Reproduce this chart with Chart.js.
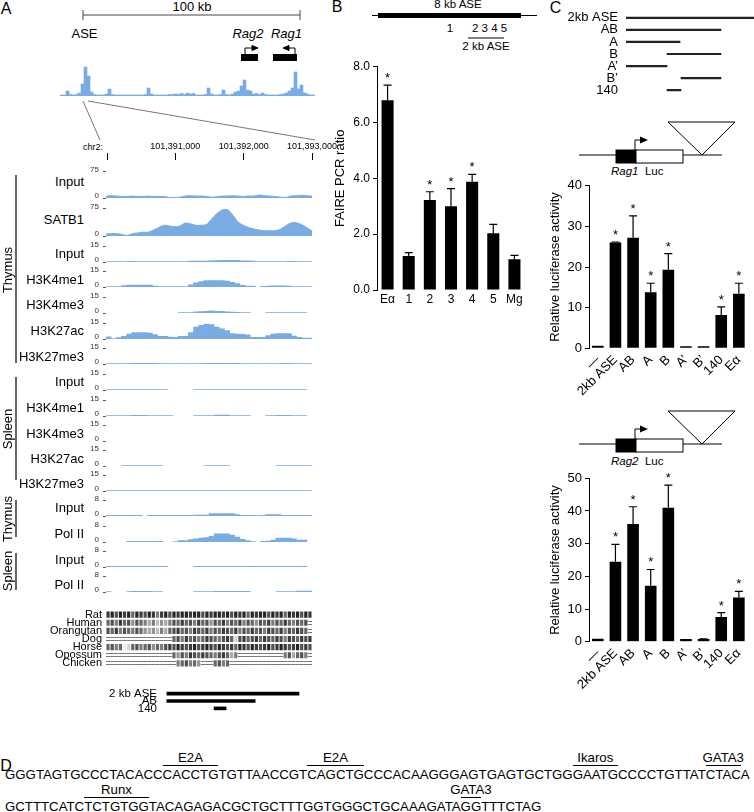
<!DOCTYPE html>
<html>
<head>
<meta charset="utf-8">
<script src="https://cdn.jsdelivr.net/npm/chart.js@4.4.1/dist/chart.umd.min.js"></script>
<style>
  body { margin: 0; width: 754px; height: 812px; position: relative; overflow: hidden; background: #fff;
         font-family: 'Liberation Sans', Arial, sans-serif; color: #000; }
  canvas, svg, .t { position: absolute; }
  .t { white-space: nowrap; line-height: 1; }
  .seq { position: absolute; left: 5px; white-space: nowrap; line-height: 1; font-size: 13px; }
  .m { position: relative; }
  .m::after { content: ''; position: absolute; left: 0; right: 0; top: -2px; border-top: 1px solid #000; }
  .m::before { content: attr(data-l); position: absolute; left: 50%; top: -16px; transform: translateX(-50%); }
</style>
</head>
<body>
<svg width="754" height="812" style="left:0;top:0" fill="none" stroke="#000">
  <!-- A: scale bar, genes, zoom lines -->
  <path d="M83 15H300M83 10V20M300 10V20" stroke="#444"/>
  <rect x="241" y="54" width="17" height="7" fill="#000" stroke="none"/>
  <path d="M245 54V48H253"/>
  <path d="M252 45.5L258 48L252 50.5Z" fill="#000"/>
  <rect x="273" y="54" width="24" height="7" fill="#000" stroke="none"/>
  <path d="M295 54V48H288"/>
  <path d="M289 45.5L283 48L289 50.5Z" fill="#000"/>
  <path d="M83 101L100 140M88 101L315 140" stroke="#777"/>
  <path d="M16 175V363M16 377V480M16 500V537M16 553V590" stroke-width="1.2"/>
  <!-- B: 8 kb ASE map -->
  <path d="M372 15.5H537"/>
  <rect x="378" y="13" width="143" height="5" fill="#000" stroke="none"/>
  <path d="M468 38H504"/>
  <!-- C: reporter constructs -->
  <g id="con">
    <path d="M579 155H722"/>
    <rect x="616" y="150" width="20" height="13" fill="#000"/>
    <rect x="636" y="150" width="47" height="13" fill="#fff"/>
    <path d="M635 150V140H641"/>
    <path d="M640 136.5L648 140L640 143.5Z" fill="#000" stroke="none"/>
    <path d="M668 122H735L702 155Z" fill="#fff"/>
  </g>
  <use href="#con" transform="translate(0,289)"/>
</svg>

<div id="seq1" class="seq">GGGTAGTGCCCTACACC<span class="m" data-l="E2A">CACCTG</span>TGTTAACCGT<span class="m" data-l="E2A">CAGCTG</span>CCCACAAGGGAGTGAGTGCTGG<span class="m" data-l="Ikaros">GAATG</span>CCCCTGTTAT<span class="m" data-l="GATA3">CTAC</span>A</div>
<div id="seq2" class="seq">GCTTTCATC<span class="m" data-l="Runx">TCTGTGG</span>TACAGAGACGCTGCTTTGGTGGGCTGCAAAGATA<span class="m" data-l="GATA3">GG</span>TTTCTAG</div>

<script>
// ---------- data ----------
// overview ChIP profile across the 100 kb locus (85 bins)
const overview = [1,1,5,1.5,1,1.5,3,12,29,20, 4,1.5,1,1,1,2,7,1.5,1,1, 1,1,1,1,1,1,1,1,1.5,8,
  2,1,1,1,1,1,1.5,1.5,2,1.5, 2.5,1.5,3,2,2.5,1,1,1,1.5,8, 2,1,1,1.5,6,1.5,1,2,4,5,
  10,16,6,5,2,2.5,1.5,3,1.5,1, 1,1,1,1.5,2,3,5,8,24,7, 11,3,2,1,1];

// zoomed tracks, 40 bins over chr2:101,390,000-101,393,000 (null = no data)
const thyInput75 = [6,7,6,5,5,6,5,5,6,5, 5,5,2,2,3,6,7,6,6,5, 3,4,6,6,7,6,5,6,6,9, 7,6,5,3,2,6,7,8,7,6];
const thySatb1 = [6,7,7,5,2,7,9,11,11,17, 24,30,28,26,28,36,34,30,30,32, 47,62,72,73,58,39,30,24,20,17, 15,15,15,19,28,36,37,32,24,14];
const thyInput15 = [0.4,0.4,0.4,0.4,0.8,0.8,0.4,0.4,0.4,0.4, 0.4,0.4,0.4,0.4,0.4,0.5,1,1,1,1.1, 1.3,1.5,1.9,1.9,1.9,1.7,1.3,1.3,1,0.6, 0.6,0.6,0.6,0.6,0.6,0.8,0.8,0.6,0.6,0.6];
const thyK4me1 = [0.5,0.5,0.5,1.5,2.1,2.1,2.1,2.1,2.1,1, 0.3,0.3,0.3,0.3,0.3,0.5,2.4,4.3,5.5,6.4, 6.4,6.4,6.4,6,4.8,3.5,1.8,1.2,1.2,null, 0.8,1.2,1.4,1.4,1.4,1.2,0.6,0.5,0.5,0.5];
const thyK4me3 = [null,null,null,null,null,null,null,null,null,null, null,null,null,null,0.5,0.5,0.6,1.4,1.6,1.9, 2.3,1.9,1.7,1.4,1.2,0.8,0.5,0.5,null,null, null,0.5,0.5,0.5,0.5,0.5,0.5,0.5,0.5,null];
const thyK27ac = [2.4,0.7,1.5,2.9,5,6.4,6.4,6.4,6,4.5, 2.9,2.9,2.1,1.7,2.9,2.9,6.4,11.9,13.5,15, 14.3,11.9,10,8.3,5.5,5,4.7,4.3,1.9,1.9, 1.9,3.6,5,5.5,5.5,5.5,3.1,1.7,1.2,1.2];
const thyK27me3 = [0.5,0.5,0.5,0.5,0.5,0.8,0.8,0.8,0.8,0.8, 0.5,0.5,0.5,0.5,0.5,0.5,0.5,0.5,0.5,0.8, 0.8,0.8,0.8,0.8,0.8,0.8,0.5,0.5,0.5,0.5, 0.5,0.5,0.5,0.5,0.8,0.8,0.5,0.5,0.5,0.5];
const splInput15 = [0.5,0.5,0.5,0.5,0.5,0.5,0.5,0.5,0.5,0.5, 0.5,0.5,null,null,null,null,null,0.5,0.5,0.5, 0.5,0.5,0.5,0.5,0.5,0.5,0.5,0.5,0.5,0.5, 0.5,0.5,0.5,0.5,0.5,0.5,0.5,0.5,0.5,null];
const splK4me1 = [0.5,0.5,0.5,0.5,0.5,0.8,0.8,0.8,0.5,0.5, 0.5,0.5,0.5,null,null,null,null,0.5,0.5,0.5, 0.5,1,1,1,0.5,0.5,0.5,0.5,null,null, null,0.5,0.5,0.8,0.8,0.8,0.5,0.5,0.5,null];
const splK4me3 = []; // no signal in this window
const splK27ac = [null,null,null,0.5,0.5,0.5,0.5,0.5,0.5,0.5, 0.5,null,null,null,null,null,null,null,null,0.5, 0.5,0.5,0.5,0.5,null,null,null,null,null,null, null,null,null,0.5,0.5,0.5,0.5,0.5,0.5,0.5];
const splK27me3 = [0.5,0.5,0.5,0.5,0.5,0.5,0.5,0.5,0.5,0.5, 0.5,0.5,0.5,0.5,0.5,0.5,0.5,0.5,0.5,0.5, 0.5,0.5,0.5,0.5,0.5,0.5,0.5,0.5,0.5,0.5, 0.5,0.5,0.5,0.5,0.5,0.5,0.5,0.5,0.5,0.5];
const thyInput8 = [0.4,0.4,0.4,0.4,0.4,0.4,0.4,null,0.4,0.4, 0.4,0.4,0.4,0.4,0.4,0.4,0.4,0.6,0.6,0.6, 1.3,1.3,1.3,1.3,1.3,0.9,0.5,0.5,0.5,0.3, 0.5,0.9,0.9,0.9,0.5,0.5,0.5,0.5,0.5,0.5];
const thyPol2 = [null,null,null,null,0.4,0.5,0.5,0.4,0.4,0.4, 0.4,null,null,0.3,0.8,0.8,1.3,1.8,2.1,2.4, 3,4.3,4.3,4.3,3.7,2.7,1.5,0.8,0.3,null, 0.4,0.6,1.1,2.2,2.2,2.2,1.8,1.1,1.1,null];
const splInput8 = [0.4,0.4,0.4,0.5,0.5,0.5,0.5,0.5,0.5,0.5, 0.5,0.4,null,null,null,null,null,0.4,0.4,0.5, 0.5,0.5,0.5,0.5,0.5,0.4,0.4,0.4,0.4,0.4, 0.4,0.4,0.4,0.4,0.5,0.5,0.4,0.4,0.4,null];
const splPol2 = [0.3,null,null,null,0.3,0.5,0.5,0.5,0.5,0.3, 0.3,null,null,null,null,null,null,0.3,0.3,0.3, 0.3,0.5,0.5,0.5,0.5,0.5,0.5,0.5,null,null, null,null,null,0.3,0.3,0.3,0.3,0.6,0.6,0.6];

// conservation (50 bins, 0 light .. 9 dark, null = unaligned)
const species = ['Rat', 'Human', 'Orangutan', 'Dog', 'Horse', 'Opossum', 'Chicken'];
const rat = [8,9,7,9,8,9,6,9,8,7, 9,8,5,8,9,7,9,8,9,9, 8,9,9,7,9,8,9,9,8,9, 7,9,8,9,6,9,8,9,9,7, 9,8,9,6,9,8,9,7,9,8];
const human = [6,7,5,8,6,7,4,7,6,5, 3,5,2,4,3,5,7,6,8,6, 7,5,8,6,7,4,7,6,8,5, 7,6,8,5,7,6,4,7,6,8, 5,7,6,8,6,5,7,6,7,null];
const orangutan = [7,6,8,5,7,6,5,7,6,4, 3,4,2,5,3,6,7,8,6,7, 5,8,7,6,8,5,7,6,8,7, 6,8,5,7,6,8,6,7,5,8, 7,6,8,5,7,6,8,7,6,null];
const dog = [null,null,null,null,null,null,null,null,null,null, null,null,null,null,null,null,6,7,5,8, 6,7,5,6,8,7,6,5,7,8, 6,1,7,8,6,7,8,6,8,7, 6,8,7,5,8,7,6,8,7,8];
const horse = [6,7,5,6,0,1,6,7,5,6, 7,4,6,5,7,8,7,9,8,7, 8,9,7,8,9,8,7,9,8,7, 8,6,9,8,7,9,8,7,8,9, 7,8,9,8,7,8,9,7,8,7];
const opossum = [null,null,null,null,null,null,null,null,null,null, null,null,null,null,null,null,6,4,7,5, 8,7,6,8,7,6,5,7,8,6, 3,5,null,null,null,null,null,null,null,null, null,null,null,5,7,3,6,7,5,null];
const chicken = [null,null,null,null,null,null,null,null,null,null, null,null,null,null,null,null,null,5,6,7, 5,6,4,null,null,null,6,7,5,6, null,null,null,null,null,null,null,null,null,null, null,null,null,null,null,null,null,null,null,null];

// tested fragments on chr2
const aseNames = ['2 kb ASE', 'AB', '140'];
const aseSpans = [[101390880, 101392810], [101390880, 101392170], [101391570, 101391745]];

// B: FAIRE
const faireLabels = ['Eα', '1', '2', '3', '4', '5', 'Mg'];
const faireVals = [6.8, 1.22, 3.22, 3.0, 3.88, 2.03, 1.1];
const faireErr = [0.54, 0.12, 0.3, 0.63, 0.26, 0.32, 0.14];
const faireStar = [true, false, true, true, true, false, false];

// C: reporter fragments (bp within the 2 kb ASE) and luciferase
const fragNames = ['2kb ASE', 'AB', 'A', 'B', 'A’', 'B’', '140'];
const fragSpans = [[0, 2000], [0, 1484], [0, 844], [641, 1484], [0, 641], [859, 1484], [641, 859]];
const lucLabels = ['—', '2kb ASE', 'AB', 'A', 'B', 'A’', 'B’', '140', 'Eα'];
const rag1Vals = [0.6, 26.0, 27.2, 13.8, 19.3, 0.5, 0.5, 8.2, 13.4];
const rag1Err = [0, 0.15, 5.4, 2.2, 4.0, 0, 0, 2.0, 2.6];
const rag1Star = [false, true, true, true, true, false, false, true, true];
const rag2Vals = [0.9, 24.5, 36.0, 17.1, 41.0, 0.8, 0.8, 7.55, 13.5];
const rag2Err = [0, 5.3, 5.3, 5.0, 6.9, 0, 0.1, 1.35, 1.9];
const rag2Star = [false, true, true, true, true, false, false, true, true];

// ---------- helpers ----------
Chart.defaults.font.family = "'Liberation Sans', Arial, sans-serif";
Chart.defaults.color = '#000';
Chart.defaults.animation = false;
Chart.defaults.responsive = false;
Chart.defaults.plugins.legend.display = false;
Chart.defaults.plugins.tooltip.enabled = false;

const blue = '#79ace2';

function box(x, y, w, h) {
  const c = document.createElement('canvas');
  c.width = w; c.height = h;
  c.style.left = x + 'px'; c.style.top = y + 'px';
  document.body.appendChild(c);
  return c;
}

function put(html, x, y, o = {}) {
  const d = document.createElement('div');
  d.className = 't';
  d.innerHTML = html;
  d.style.left = x + 'px';
  d.style.top = y + 'px';
  d.style.fontSize = (o.size || 13) + 'px';
  const ax = o.align === 'r' ? '-100%' : o.align === 'l' ? '0' : '-50%';
  d.style.transform = 'translate(' + ax + ',-50%)' + (o.rot ? ' rotate(' + o.rot + 'deg)' : '');
  document.body.appendChild(d);
}

const errBars = {
  id: 'errs',
  afterDatasetsDraw(chart, args, opts) {
    const { ctx, scales: { x, y } } = chart;
    const vals = chart.data.datasets[0].data;
    ctx.save();
    ctx.strokeStyle = '#000';
    ctx.fillStyle = '#000';
    ctx.lineWidth = 1.2;
    ctx.font = "13px 'Liberation Sans', Arial";
    ctx.textAlign = 'center';
    vals.forEach((v, i) => {
      const px = x.getPixelForValue(i);
      const top = y.getPixelForValue(v + opts.err[i]);
      if (opts.err[i] > 0) {
        ctx.beginPath();
        ctx.moveTo(px, y.getPixelForValue(v));
        ctx.lineTo(px, top);
        ctx.moveTo(px - 4, top);
        ctx.lineTo(px + 4, top);
        ctx.stroke();
      }
      if (opts.star[i]) ctx.fillText('*', px, top - 3);
    });
    ctx.restore();
  }
};

function barChart(canvas, c) {
  return new Chart(canvas, {
    type: 'bar',
    data: { labels: c.labels, datasets: [{ data: c.values, backgroundColor: '#000', barPercentage: c.barPct, categoryPercentage: 1 }] },
    options: {
      layout: { padding: c.pad },
      plugins: { errs: { err: c.err, star: c.star } },
      scales: {
        x: {
          afterFit: s => { s.height = c.xh; },
          grid: { display: false, drawTicks: false },
          border: { display: false },
          ticks: { autoSkip: false, minRotation: c.rot, maxRotation: c.rot, padding: c.xpad, font: { size: c.font } }
        },
        y: {
          min: 0, max: c.max,
          afterFit: s => { s.width = c.yw; },
          grid: { drawOnChartArea: false, tickLength: 4, color: '#000' },
          border: { color: '#000', width: 1 },
          ticks: { stepSize: c.step, padding: 3, font: { size: c.font }, callback: c.fmt },
          title: { display: true, text: c.title, font: { size: 13 }, padding: { top: c.tpad, bottom: 0 } }
        }
      }
    },
    plugins: [errBars]
  });
}

function spanChart(canvas, names, spans, c) {
  return new Chart(canvas, {
    type: 'bar',
    data: { labels: names, datasets: [{ data: spans, backgroundColor: c.color, barThickness: c.thick }] },
    options: {
      indexAxis: 'y',
      layout: { padding: c.pad },
      scales: {
        x: { display: false, min: c.min, max: c.max },
        y: {
          afterFit: s => { s.width = c.yw; },
          grid: { display: false, drawTicks: false },
          border: { display: false },
          ticks: { autoSkip: false, padding: c.tpad, font: { size: c.font } }
        }
      }
    }
  });
}

// ---------- panel A ----------
put('A', 6, 9, { size: 16 });
put('100 kb', 192, 5.5);
put('ASE', 84.5, 33);
put('<i>Rag2</i>', 248, 33);
put('<i>Rag1</i>', 286.5, 33);

new Chart(box(60, 64, 255, 33), {
  type: 'bar',
  data: { labels: overview.map((_, i) => i), datasets: [{ data: overview, backgroundColor: blue, barPercentage: 1, categoryPercentage: 1 }] },
  options: {
    layout: { padding: { top: 2, bottom: 1 } },
    scales: { x: { display: false }, y: { display: false, min: 0, max: 30 } }
  }
});

const rulerStart = 101390000, rulerEnd = 101393000;
put('chr2:', 93, 147, { size: 9 });
new Chart(box(80, 135, 270, 27), {
  type: 'scatter',
  data: { datasets: [] },
  options: {
    layout: { padding: { left: 27, right: 38 } },
    scales: {
      x: {
        type: 'linear', position: 'top', min: rulerStart, max: rulerEnd,
        afterFit: s => { s.height = 25; },
        grid: { drawOnChartArea: false, tickLength: 7, color: '#000' },
        border: { display: false },
        ticks: { stepSize: 1000, padding: 1, maxRotation: 0, font: { size: 9 },
                 callback: v => v === rulerStart ? '' : v.toLocaleString('en-US') }
      },
      y: { display: false }
    }
  }
});

const bins = thySatb1.map((_, i) => i);
const tracks = [
  { name: 'Input', data: thyInput75, max: 75, base: 200.5, h: 32, line: true },
  { name: 'SATB1', data: thySatb1, max: 75, base: 239, h: 33, line: true },
  { name: 'Input', data: thyInput15, max: 15, base: 264.5, h: 21 },
  { name: 'H3K4me1', data: thyK4me1, max: 15, base: 290, h: 21 },
  { name: 'H3K4me3', data: thyK4me3, max: 15, base: 315.5, h: 21 },
  { name: 'H3K27ac', data: thyK27ac, max: 15, base: 341.5, h: 21 },
  { name: 'H3K27me3', data: thyK27me3, max: 15, base: 367, h: 21 },
  { name: 'Input', data: splInput15, max: 15, base: 392.5, h: 21 },
  { name: 'H3K4me1', data: splK4me1, max: 15, base: 418.5, h: 21 },
  { name: 'H3K4me3', data: splK4me3, max: 15, base: 444, h: 21 },
  { name: 'H3K27ac', data: splK27ac, max: 15, base: 469, h: 21 },
  { name: 'H3K27me3', data: splK27me3, max: 15, base: 494, h: 21 },
  { name: 'Input', data: thyInput8, max: 8, base: 518.5, h: 21 },
  { name: 'Pol II', data: thyPol2, max: 8, base: 544.5, h: 21 },
  { name: 'Input', data: splInput8, max: 8, base: 570, h: 21 },
  { name: 'Pol II', data: splPol2, max: 8, base: 595, h: 21 }
];

tracks.forEach(t => {
  put(t.name, 84, t.base - (t.line ? 20 : 11.5), { align: 'r' });
  new Chart(box(80, t.base - t.h - 6, 240, t.h + 12), {
    type: t.line ? 'line' : 'bar',
    data: {
      labels: bins,
      datasets: [{ data: t.data, backgroundColor: blue, borderColor: blue, borderWidth: t.line ? 1 : 0,
                   fill: 'origin', pointRadius: 0, tension: 0.3, barPercentage: 1, categoryPercentage: 1 }]
    },
    options: {
      layout: { padding: { top: 6, bottom: 6, right: 8 } },
      scales: {
        x: { display: false },
        y: {
          min: 0, max: t.max,
          afterFit: s => { s.width = 26; },
          afterBuildTicks: s => { s.ticks = [{ value: 0 }, { value: t.max }]; },
          grid: { drawOnChartArea: false, tickLength: 3, color: '#555' },
          border: { display: false },
          ticks: { autoSkip: false, padding: 4, labelOffset: -2, color: '#333', font: { size: 8 } }
        }
      }
    }
  });
});

put('Thymus', 7, 270, { rot: -90 });
put('Spleen', 7, 429, { rot: -90 });
put('Thymus', 7, 519, { rot: -90 });
put('Spleen', 7, 571, { rot: -90 });

// conservation barcode
const consRows = [rat, human, orangutan, dog, horse, opossum, chicken];
const consBins = rat.map((_, i) => i);
const shade = v => { const g = Math.round(235 - (v || 0) * 22); return 'rgb(' + g + ',' + g + ',' + g + ')'; };
const gapLines = {
  id: 'gaps',
  beforeDatasetsDraw(chart) {
    const { ctx, scales: { x, y } } = chart;
    const half = x.width / consBins.length / 2;
    ctx.save();
    ctx.strokeStyle = '#777';
    ctx.lineWidth = 1;
    consRows.forEach((row, r) => {
      const cy = Math.round(y.getPixelForValue(r + 0.5));
      row.forEach((v, i) => {
        if (v !== null) return;
        const cx = x.getPixelForValue(i);
        ctx.beginPath();
        ctx.moveTo(cx - half, cy - 1.5); ctx.lineTo(cx + half, cy - 1.5);
        ctx.moveTo(cx - half, cy + 1.5); ctx.lineTo(cx + half, cy + 1.5);
        ctx.stroke();
      });
    });
    ctx.restore();
  }
};
new Chart(box(40, 600, 280, 78), {
  type: 'bar',
  data: {
    labels: consBins,
    datasets: consRows.map((row, r) => ({
      data: row.map(v => v === null ? null : [r + 0.12, r + 0.88]),
      backgroundColor: row.map(shade),
      grouped: false, barPercentage: 0.78, categoryPercentage: 1
    }))
  },
  options: {
    layout: { padding: { top: 1.6, bottom: 0.6, right: 8 } },
    scales: {
      x: { display: false },
      y: {
        min: 0, max: 7, reverse: true,
        afterFit: s => { s.width = 66; },
        afterBuildTicks: s => { s.ticks = species.map((_, i) => ({ value: i + 0.5 })); },
        grid: { display: false, drawTicks: false },
        border: { display: false },
        ticks: { autoSkip: false, padding: 4, font: { size: 11 }, callback: v => species[Math.floor(v)] }
      }
    }
  },
  plugins: [gapLines]
});

spanChart(box(80, 680, 240, 42), aseNames, aseSpans,
  { color: '#000', thick: 3, pad: { top: 2.5, bottom: 0.5, right: 8 }, min: 101390780, max: rulerEnd, yw: 80, tpad: 3, font: 11.5 });

// ---------- panel B ----------
put('B', 337, 7, { size: 16 });
put('8 kb ASE', 458, 5, { size: 11.5 });
put('1', 450, 29, { size: 11.5 });
put('2 3 4 5', 472, 29, { size: 11.5, align: 'l' });
put('2 kb ASE', 486, 47, { size: 11.5 });

barChart(box(330, 55, 200, 260), {
  labels: faireLabels, values: faireVals, err: faireErr, star: faireStar,
  barPct: 0.57, pad: { top: 11.7, right: 5 }, xh: 25, yw: 47, rot: 0, xpad: 2.5, font: 12,
  max: 8, step: 2, fmt: v => v.toFixed(1), title: 'FAIRE PCR ratio', tpad: 2.2
});

// ---------- panel C ----------
put('C', 555.5, 7.5, { size: 16 });
spanChart(box(520, -4, 234, 116), fragNames, fragSpans,
  { color: '#222', thick: 1.5, pad: { top: 0.9, bottom: 1.6 }, min: 0, max: 2000, yw: 106, tpad: 8, font: 13 });

put('<i>Rag1</i>&nbsp; Luc', 611, 172, { align: 'l', size: 11.5 });
barChart(box(520, 170, 234, 235), {
  labels: lucLabels, values: rag1Vals, err: rag1Err, star: rag1Star,
  barPct: 0.66, pad: { top: 15.7, right: 2 }, xh: 56.7, yw: 69, rot: 45, xpad: 4, font: 13,
  max: 40, step: 10, fmt: v => v, title: 'Relative luciferase activity', tpad: 27.2
});

put('<i>Rag2</i>&nbsp; Luc', 611, 461.5, { align: 'l', size: 11.5 });
barChart(box(520, 465, 234, 240), {
  labels: lucLabels, values: rag2Vals, err: rag2Err, star: rag2Star,
  barPct: 0.66, pad: { top: 13.3, right: 2 }, xh: 63.3, yw: 69, rot: 45, xpad: 4, font: 13,
  max: 50, step: 10, fmt: v => v, title: 'Relative luciferase activity', tpad: 27.2
});

// ---------- panel D ----------
put('D', 6, 766, { size: 16 });
const s1 = document.getElementById('seq1');
const s2 = document.getElementById('seq2');
const seqSize = 13 * 745 / s1.getBoundingClientRect().width;
[[s1, 774], [s2, 806]].forEach(([el, cy]) => {
  el.style.fontSize = seqSize + 'px';
  el.style.top = (cy - seqSize * 0.49) + 'px';
});
</script>
</body>
</html>
